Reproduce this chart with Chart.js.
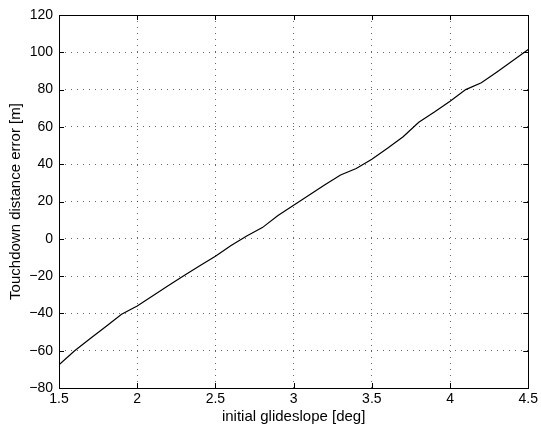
<!DOCTYPE html>
<html>
<head>
<meta charset="utf-8">
<script src="https://cdn.jsdelivr.net/npm/chart.js@4/dist/chart.umd.min.js"></script>
<style>
  html, body { margin: 0; padding: 0; background: #fff; }
  #wrap { width: 541px; height: 430px; position: relative; }
</style>
</head>
<body>
<div id="wrap"><canvas id="chart"></canvas></div>
<script>
// initial glideslope [deg] vs touchdown distance error [m]
const slopes = [1.5, 1.6, 1.7, 1.8, 1.9, 2.0, 2.1, 2.2, 2.3, 2.4, 2.5, 2.6, 2.7, 2.8, 2.9, 3.0,
                3.1, 3.2, 3.3, 3.4, 3.5, 3.6, 3.7, 3.8, 3.9, 4.0, 4.1, 4.2, 4.3, 4.4, 4.5];
const errors = [-67.5, -60, -53.5, -47, -40.5, -36, -30.5, -25, -19.7, -14.5, -9.3, -3.6, 1.5, 6, 12.5, 18,
                23.5, 29, 34.2, 37.7, 42.7, 48.6, 54.7, 62.5, 68, 73.8, 80, 83.7, 89.5, 95.5, 101.5];
const xTicks = [1.5, 2, 2.5, 3, 3.5, 4, 4.5];
const yTicks = [-80, -60, -40, -20, 0, 20, 40, 60, 80, 100, 120];

const FONT = 'Liberation Sans, Arial, Helvetica, sans-serif';

// box around the plot + inward tick marks (matlab style)
const boxPlugin = {
    id: 'box',
    afterDraw(chart) {
        const { ctx, chartArea: a, scales } = chart;
        const len = 5;
        ctx.save();
        ctx.strokeStyle = '#000';
        ctx.lineWidth = 1;
        ctx.beginPath();
        xTicks.forEach(v => {
            const x = Math.round(scales.x.getPixelForValue(v)) + 0.5;
            ctx.moveTo(x, a.bottom); ctx.lineTo(x, a.bottom - len);
            ctx.moveTo(x, a.top); ctx.lineTo(x, a.top + len);
        });
        yTicks.forEach(v => {
            const y = Math.round(scales.y.getPixelForValue(v)) + 0.5;
            ctx.moveTo(a.left, y); ctx.lineTo(a.left + len, y);
            ctx.moveTo(a.right, y); ctx.lineTo(a.right - len, y);
        });
        ctx.stroke();
        ctx.strokeRect(Math.round(a.left) + 0.5, Math.round(a.top) + 0.5,
                       Math.round(a.right - a.left), Math.round(a.bottom - a.top));
        ctx.restore();
    }
};

new Chart(document.getElementById('chart'), {
    type: 'line',
    data: {
        datasets: [{
            data: slopes.map((s, i) => ({ x: s, y: errors[i] })),
            borderColor: '#000',
            borderWidth: 1.2,
            pointRadius: 0,
            tension: 0,
            fill: false
        }]
    },
    options: {
        responsive: true,
        maintainAspectRatio: false,
        animation: false,
        layout: { padding: { top: 15, right: 10, left: 0, bottom: 0 } },
        plugins: {
            legend: { display: false },
            tooltip: { enabled: false }
        },
        scales: {
            x: {
                type: 'linear',
                min: 1.5,
                max: 4.5,
                afterBuildTicks: s => { s.ticks = xTicks.map(v => ({ value: v })); },
                afterFit: s => { s.height = 42; },
                ticks: {
                    color: '#000',
                    padding: 3,
                    maxRotation: 0,
                    font: { family: FONT, size: 14 },
                    callback: v => String(v)
                },
                grid: { color: 'rgba(0,0,0,0.6)', drawTicks: false, lineWidth: 1 },
                border: { display: false, dash: [1, 5] },
                title: {
                    display: true,
                    text: 'initial glideslope [deg]',
                    color: '#000',
                    font: { family: FONT, size: 15 },
                    padding: { top: 0, bottom: 4 }
                }
            },
            y: {
                min: -80,
                max: 120,
                afterBuildTicks: s => { s.ticks = yTicks.map(v => ({ value: v })); },
                afterFit: s => { s.width = 59; },
                ticks: {
                    color: '#000',
                    padding: 6,
                    font: { family: FONT, size: 14 },
                    callback: v => String(v).replace('-', '\u2212')
                },
                grid: { color: 'rgba(0,0,0,0.6)', drawTicks: false, lineWidth: 1 },
                border: { display: false, dash: [1, 5] },
                title: {
                    display: true,
                    text: 'Touchdown distance error [m]',
                    color: '#000',
                    font: { family: FONT, size: 15 },
                    padding: { top: 7, bottom: 0 }
                }
            }
        }
    },
    plugins: [boxPlugin]
});
</script>
</body>
</html>
